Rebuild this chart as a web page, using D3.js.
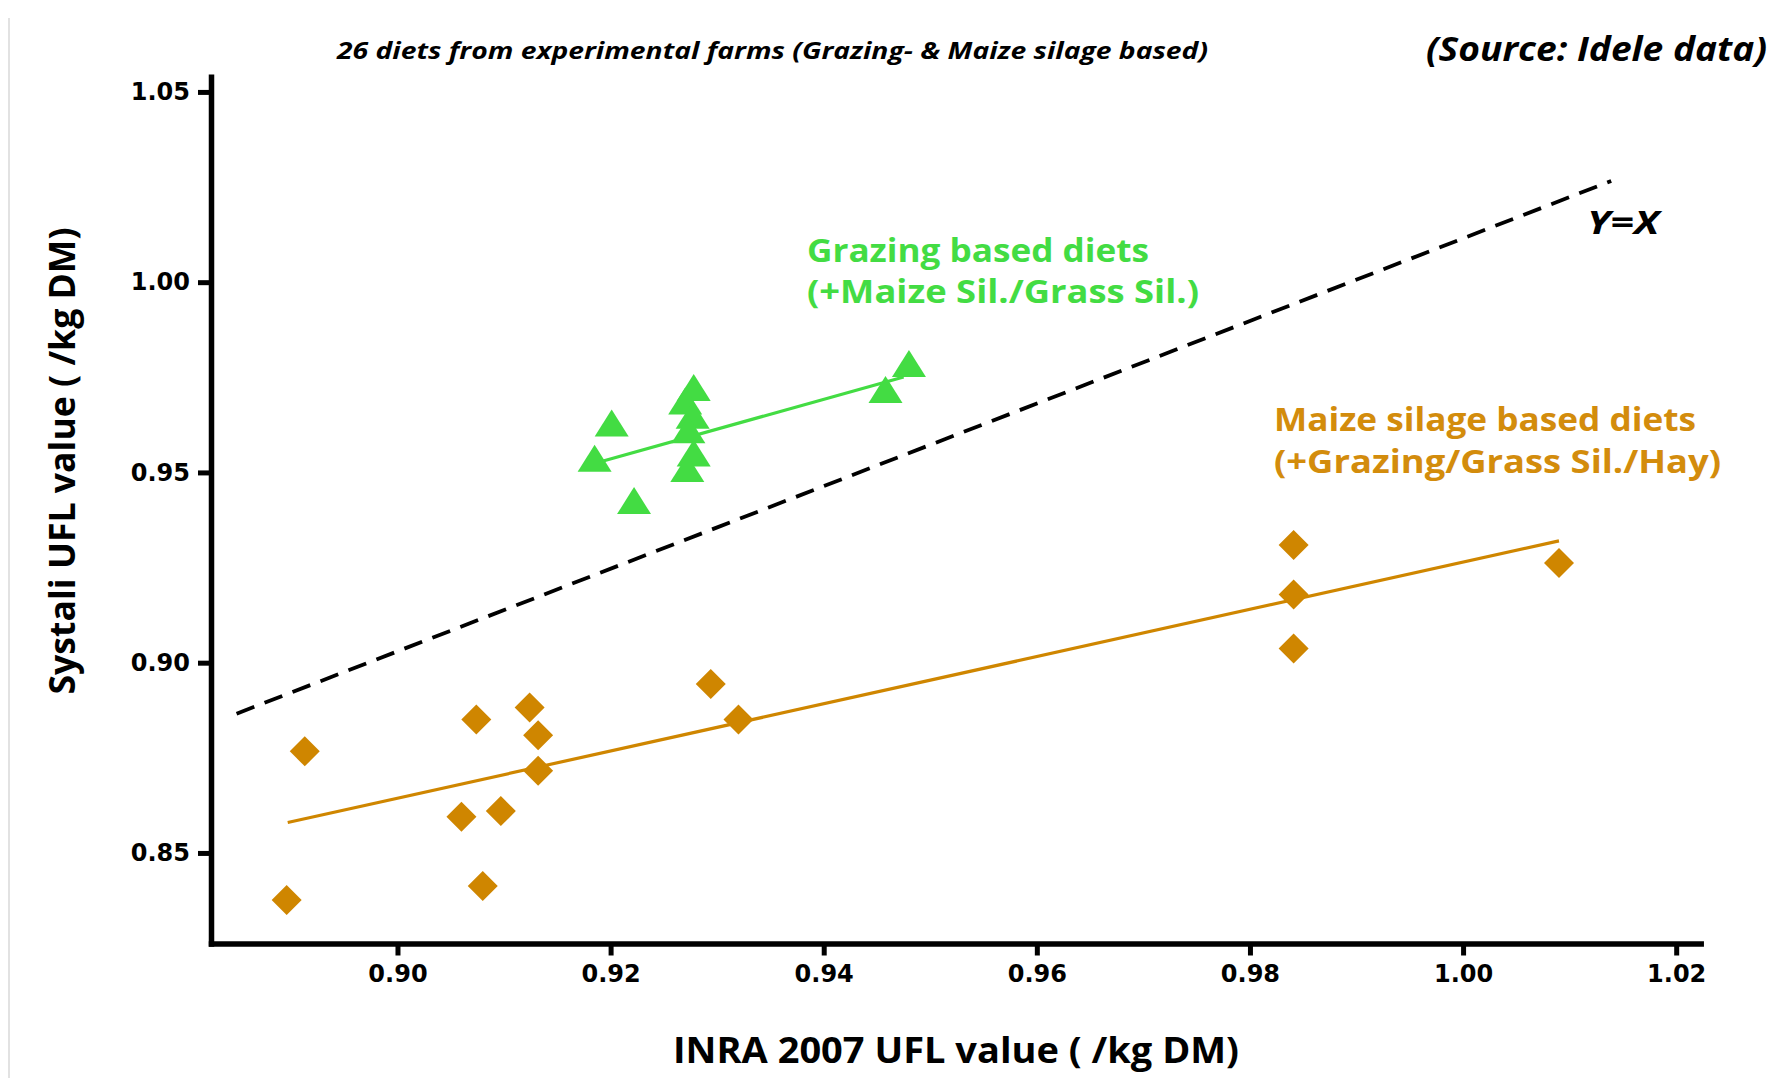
<!DOCTYPE html>
<html>
<head>
<meta charset="utf-8">
<script src="https://cdn.jsdelivr.net/npm/d3@7"></script>
<style>
  html, body { margin: 0; padding: 0; background: #fff; }
  svg { display: block; }
</style>
</head>
<body>
<svg id="chart" width="1779" height="1081"></svg>
<script>
// ---------- DATA ----------
const grazingX = [0.9185, 0.9201, 0.9222, 0.9278, 0.9270, 0.9277, 0.9273, 0.9278, 0.9272, 0.9458, 0.9480];
const grazingY = [0.9537, 0.9630, 0.9426, 0.9723, 0.9688, 0.9650, 0.9612, 0.9551, 0.9510, 0.9718, 0.9786];

const maizeX = [0.8896, 0.8913, 0.9060, 0.9074, 0.9080, 0.9097, 0.9124, 0.9132, 0.9132, 0.9294, 0.9320, 0.9841, 0.9841, 0.9841, 1.0090];
const maizeY = [0.8376, 0.8767, 0.8595, 0.8851, 0.8413, 0.8610, 0.8882, 0.8809, 0.8716, 0.8944, 0.8851, 0.9309, 0.9179, 0.9037, 0.9262];

const grazingFitX = [0.9193, 0.9475];
const grazingFitY = [0.9530, 0.9751];
const maizeFitX = [0.8897, 1.0090];
const maizeFitY = [0.8580, 0.9320];
const refLineX = [0.8849, 1.0139];
const refLineY = [0.8866, 1.0266];

const xTicks = [0.90, 0.92, 0.94, 0.96, 0.98, 1.00, 1.02];
const yTicks = [0.85, 0.90, 0.95, 1.00, 1.05];

const titleText = "26 diets from experimental farms (Grazing- & Maize silage based)";
const sourceText = "(Source: Idele data)";
const xLabel = "INRA 2007 UFL value ( /kg DM)";
const yLabel = "Systali UFL value ( /kg DM)";
const grazingLabel = ["Grazing based diets", "(+Maize Sil./Grass Sil.)"];
const maizeLabel = ["Maize silage based diets", "(+Grazing/Grass Sil./Hay)"];
const refLabel = "Y=X";

// ---------- STYLE ----------
const GREEN = "#43DC43";
const ORANGE = "#CF8600";
const ORANGE_TXT = "#D38C0C";
const LABEL_FONT = "'Open Sans', 'Noto Sans', sans-serif";
const TICK_FONT = "'DejaVu Sans', Verdana, sans-serif";

const svg = d3.select("#chart");

// faint left border line
svg.append("line")
  .attr("x1", 9).attr("x2", 9).attr("y1", 18).attr("y2", 1078)
  .attr("stroke", "#d9d9d9").attr("stroke-width", 1.5);

const x = d3.scaleLinear().domain([0.8825, 1.0223]).range([211, 1700.7]);
const y = d3.scaleLinear().domain([0.8262, 1.0540]).range([943.5, 76.7]);

// ---------- AXES ----------
const xAxis = d3.axisBottom(x).tickValues(xTicks).tickFormat(d3.format(".2f"))
  .tickSizeInner(12).tickSizeOuter(0).tickPadding(9);
const yAxis = d3.axisLeft(y).tickValues(yTicks).tickFormat(d3.format(".2f"))
  .tickSizeInner(13).tickSizeOuter(0).tickPadding(8);

const gx = svg.append("g").attr("transform", `translate(0,${y.range()[0]})`).call(xAxis);
const gy = svg.append("g").attr("transform", `translate(${x.range()[0]},0)`).call(yAxis);

[gx, gy].forEach(g => {
  g.select(".domain").attr("stroke", "#000").attr("stroke-width", 5.5).attr("stroke-linecap", "square");
  g.selectAll(".tick line").attr("stroke", "#000").attr("stroke-width", 5);
  g.selectAll(".tick text")
    .attr("fill", "#000")
    .style("font-family", TICK_FONT)
    .style("font-weight", "bold")
    .style("font-size", "24px");
});

// ---------- LINES ----------
const lineGen = d3.line().x(d => x(d[0])).y(d => y(d[1]));

svg.append("path")
  .datum(d3.zip(refLineX, refLineY))
  .attr("d", lineGen)
  .attr("fill", "none").attr("stroke", "#000")
  .attr("stroke-width", 3.8).attr("stroke-dasharray", "19,11");

svg.append("path")
  .datum(d3.zip(maizeFitX, maizeFitY))
  .attr("d", lineGen)
  .attr("fill", "none").attr("stroke", ORANGE).attr("stroke-width", 3.2);

svg.append("path")
  .datum(d3.zip(grazingFitX, grazingFitY))
  .attr("d", lineGen)
  .attr("fill", "none").attr("stroke", GREEN).attr("stroke-width", 3.2);

// ---------- MARKERS ----------
const dHalf = 15;
svg.append("g").selectAll("path")
  .data(d3.zip(maizeX, maizeY))
  .join("path")
  .attr("transform", d => `translate(${x(d[0])},${y(d[1])})`)
  .attr("d", `M0,${-dHalf}L${dHalf},0L0,${dHalf}L${-dHalf},0Z`)
  .attr("fill", ORANGE);

const tw = 17, th = 13.5;
svg.append("g").selectAll("path")
  .data(d3.zip(grazingX, grazingY))
  .join("path")
  .attr("transform", d => `translate(${x(d[0])},${y(d[1])})`)
  .attr("d", `M0,${-th}L${tw},${th}L${-tw},${th}Z`)
  .attr("fill", GREEN);

// ---------- TEXT ----------
function txt(str, xx, yy, len, size, opts = {}) {
  const t = svg.append("text")
    .attr("x", xx).attr("y", yy)
    .attr("textLength", len).attr("lengthAdjust", "spacingAndGlyphs")
    .style("font-family", LABEL_FONT)
    .style("font-weight", "bold")
    .style("font-size", size + "px")
    .style("font-style", opts.italic ? "italic" : "normal")
    .attr("fill", opts.fill || "#000")
    .text(str);
  if (opts.anchor) t.attr("text-anchor", opts.anchor);
  if (opts.transform) t.attr("transform", opts.transform);
  return t;
}

txt(titleText, 337, 59, 871, 24, { italic: true });
txt(sourceText, 1426, 61, 341, 34, { italic: true });

txt(grazingLabel[0], 807, 262, 342, 32, { fill: GREEN });
txt(grazingLabel[1], 807, 303, 392, 32, { fill: GREEN });

txt(maizeLabel[0], 1274, 431, 422, 32, { fill: ORANGE_TXT });
txt(maizeLabel[1], 1274, 473, 447, 32, { fill: ORANGE_TXT });

txt(refLabel, 1587, 234, 72, 32, { italic: true });

txt(xLabel, 673, 1063, 566, 36);
svg.append("text")
  .attr("transform", "translate(75,461) rotate(-90)")
  .attr("text-anchor", "middle")
  .attr("textLength", 467).attr("lengthAdjust", "spacingAndGlyphs")
  .style("font-family", LABEL_FONT)
  .style("font-weight", "bold")
  .style("font-size", "36px")
  .attr("fill", "#000")
  .text(yLabel);
</script>
</body>
</html>
